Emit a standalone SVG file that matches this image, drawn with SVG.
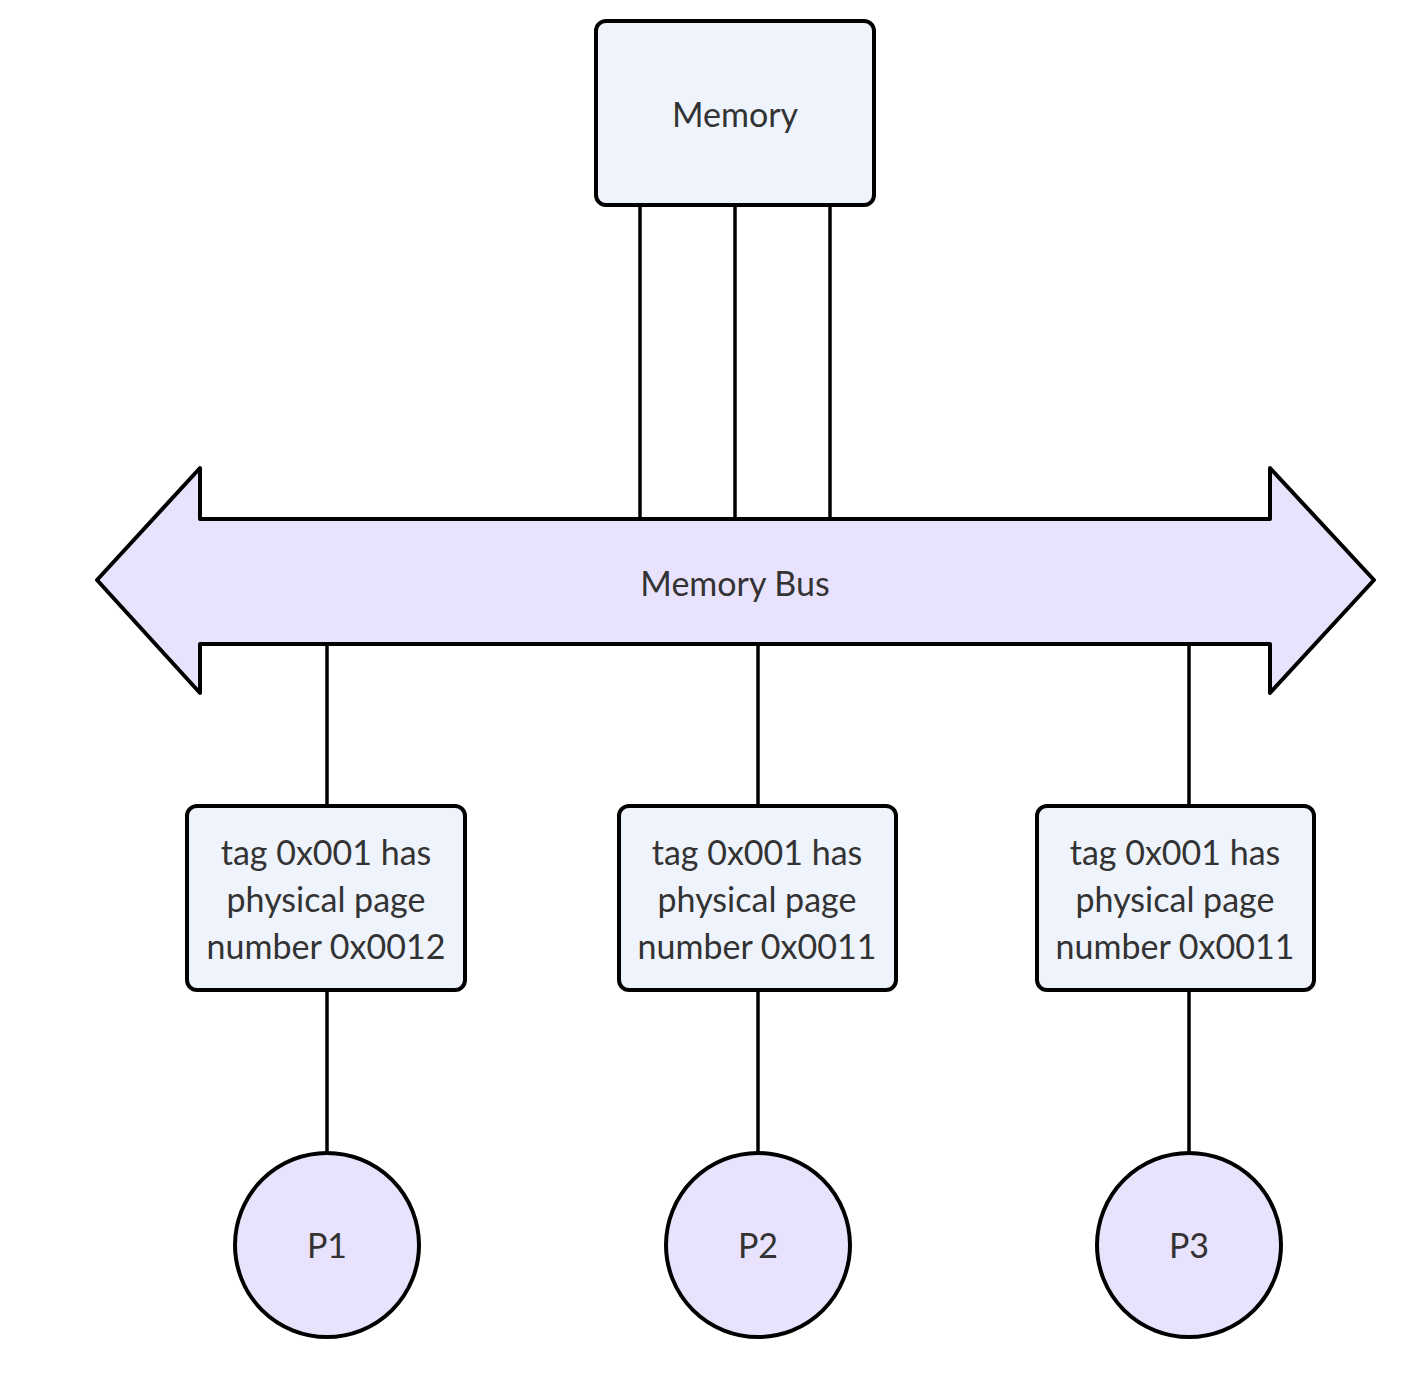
<svg xmlns="http://www.w3.org/2000/svg" width="1424" height="1379" viewBox="0 0 1424 1379">
<style>
.box{fill:#eff3fc;stroke:#000;stroke-width:4}
.lav{fill:#e9e2fd;stroke:#000;stroke-width:4;stroke-linejoin:round}
.ln{stroke:#000;stroke-width:3.5;fill:none}
text{font-family:Lato,"Open Sans","Liberation Sans",sans-serif;font-size:34px;fill:#333;text-anchor:middle}
</style>
<rect width="1424" height="1379" fill="#fff"/>
<g id="connectors">
<line class="ln" x1="640" y1="205" x2="640" y2="519"/>
<line class="ln" x1="735" y1="205" x2="735" y2="519"/>
<line class="ln" x1="830" y1="205" x2="830" y2="519"/>
<line class="ln" x1="327" y1="644" x2="327" y2="806"/>
<line class="ln" x1="758" y1="644" x2="758" y2="806"/>
<line class="ln" x1="1189" y1="644" x2="1189" y2="806"/>
<line class="ln" x1="327" y1="990" x2="327" y2="1153"/>
<line class="ln" x1="758" y1="990" x2="758" y2="1153"/>
<line class="ln" x1="1189" y1="990" x2="1189" y2="1153"/>
</g>
<g id="memory">
<rect class="box" x="596" y="21" width="278" height="184" rx="10"/>
<text x="735" y="127">Memory</text>
</g>
<g id="bus">
<path class="lav" d="M97,580 L200,468 L200,519 L1270,519 L1270,468 L1374,580 L1270,693 L1270,644 L200,644 L200,693 Z"/>
<text x="735" y="596">Memory Bus</text>
</g>
<g id="tag1">
<rect class="box" x="187" y="806" width="278" height="184" rx="10"/>
<text x="326" y="865">tag 0x001 has</text>
<text x="326" y="912">physical page</text>
<text x="326" y="959">number 0x0012</text>
</g>
<g id="tag2">
<rect class="box" x="619" y="806" width="277" height="184" rx="10"/>
<text x="757" y="865">tag 0x001 has</text>
<text x="757" y="912">physical page</text>
<text x="757" y="959">number 0x0011</text>
</g>
<g id="tag3">
<rect class="box" x="1037" y="806" width="277" height="184" rx="10"/>
<text x="1175" y="865">tag 0x001 has</text>
<text x="1175" y="912">physical page</text>
<text x="1175" y="959">number 0x0011</text>
</g>
<g id="p1">
<circle class="lav" cx="327" cy="1245" r="92"/>
<text x="327" y="1258">P1</text>
</g>
<g id="p2">
<circle class="lav" cx="758" cy="1245" r="92"/>
<text x="758" y="1258">P2</text>
</g>
<g id="p3">
<circle class="lav" cx="1189" cy="1245" r="92"/>
<text x="1189" y="1258">P3</text>
</g>
</svg>
